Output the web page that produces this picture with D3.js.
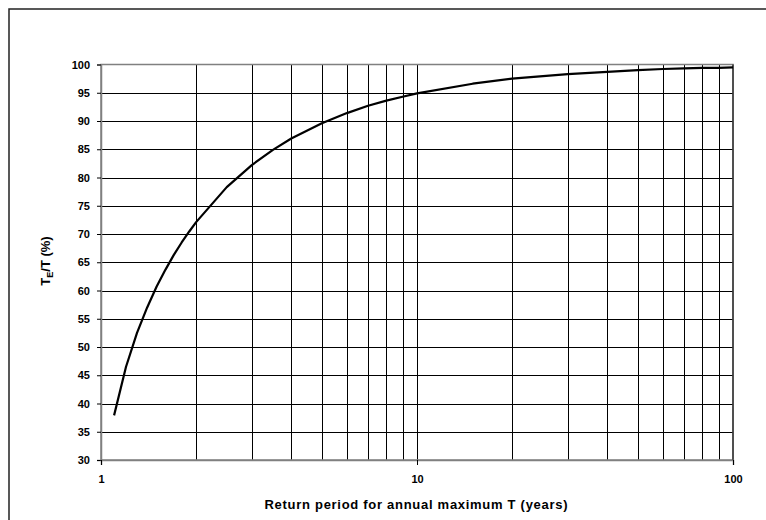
<!DOCTYPE html>
<html><head><meta charset="utf-8">
<script src="https://cdn.jsdelivr.net/npm/d3@7"></script>
<style>body{margin:0;background:#fff}svg{display:block}</style>
</head><body><svg id="c" width="766" height="520"></svg>
<script>
const returnPeriods = [1.1,1.2,1.3,1.4,1.5,1.6,1.7,1.8,1.9,2,2.5,3,3.5,4,5,6,7,8,9,10,15,20,30,40,50,60,70,80,90,100];
const ratioPct =      [37.9,46.5,52.5,57.0,60.7,63.7,66.3,68.5,70.4,72.1,78.3,82.2,84.9,86.9,89.6,91.4,92.7,93.6,94.3,94.9,96.6,97.5,98.3,98.7,99.0,99.2,99.3,99.4,99.4,99.5];
const yTicks = [30,35,40,45,50,55,60,65,70,75,80,85,90,95,100];
const xMajor = [1,10,100];
const xMinor = [2,3,4,5,6,7,8,9,20,30,40,50,60,70,80,90];

const svg = d3.select("#c");
const L=101, R=733, T=64.5, B=460;
const x = d3.scaleLog().domain([1,100]).range([L,R]);
const y = d3.scaleLinear().domain([30,100]).range([B,T]);
const font = "Arial, 'Liberation Sans', sans-serif";

// outer frame
svg.append("rect").attr("x",9).attr("y",9).attr("width",800).attr("height",600)
  .attr("fill","none").attr("stroke","#222").attr("stroke-width",1.5);

// grid
svg.append("g").selectAll("line").data(yTicks.filter(d=>d>30&&d<100)).join("line")
  .attr("x1",L).attr("x2",R).attr("y1",d=>Math.round(y(d))+0.5).attr("y2",d=>Math.round(y(d))+0.5)
  .attr("stroke","#000").attr("stroke-width",1);
svg.append("g").selectAll("line").data(xMinor.concat([10])).join("line")
  .attr("y1",T).attr("y2",B).attr("x1",d=>Math.round(x(d))+0.5).attr("x2",d=>Math.round(x(d))+0.5)
  .attr("stroke","#000").attr("stroke-width",1);

// plot border
svg.append("rect").attr("x",L).attr("y",T).attr("width",R-L).attr("height",B-T)
  .attr("fill","none").attr("stroke","#808080").attr("stroke-width",1.5);
svg.append("line").attr("x1",R).attr("x2",R).attr("y1",T).attr("y2",B).attr("stroke","#000").attr("stroke-width",1);

// axes
const yAxis = d3.axisLeft(y).tickValues(yTicks).tickSize(4).tickPadding(7);
const gy = svg.append("g").attr("transform",`translate(${L},0)`).call(yAxis);
gy.select(".domain").attr("stroke","#808080").attr("stroke-width",1.5);
gy.selectAll(".tick line").attr("stroke","#000");
gy.selectAll("text").attr("font-family",font).attr("font-size",11).attr("font-weight","bold").attr("fill","#000");

const xAxis = d3.axisBottom(x).tickValues(xMajor).tickFormat(d3.format("d")).tickSize(5).tickPadding(10);
const gx = svg.append("g").attr("transform",`translate(0,${B})`).call(xAxis);
gx.select(".domain").attr("stroke","#808080").attr("stroke-width",1.5);
gx.selectAll(".tick line").attr("stroke","#000");
gx.selectAll("text").attr("font-family",font).attr("font-size",11).attr("font-weight","bold").attr("fill","#000");

// curve
const pts = returnPeriods.map((t,i)=>[t,ratioPct[i]]);
svg.append("path").datum(pts)
  .attr("d", d3.line().x(d=>x(d[0])).y(d=>y(d[1])))
  .attr("fill","none").attr("stroke","#000").attr("stroke-width",2.2).attr("stroke-linejoin","round");

// axis titles
svg.append("text").attr("x",416).attr("y",509).attr("text-anchor","middle")
  .attr("font-family",font).attr("font-size",13).attr("font-weight","bold")
  .attr("textLength",303).attr("lengthAdjust","spacing")
  .text("Return period for annual maximum T (years)");
const yt = svg.append("text").attr("transform",`translate(50,261) rotate(-90)`).attr("text-anchor","middle")
  .attr("font-family",font).attr("font-size",13).attr("font-weight","bold");
yt.append("tspan").text("T");
yt.append("tspan").attr("font-size",9).attr("dy",3).text("E");
yt.append("tspan").attr("dy",-3).text("/T (%)");
</script></body></html>
